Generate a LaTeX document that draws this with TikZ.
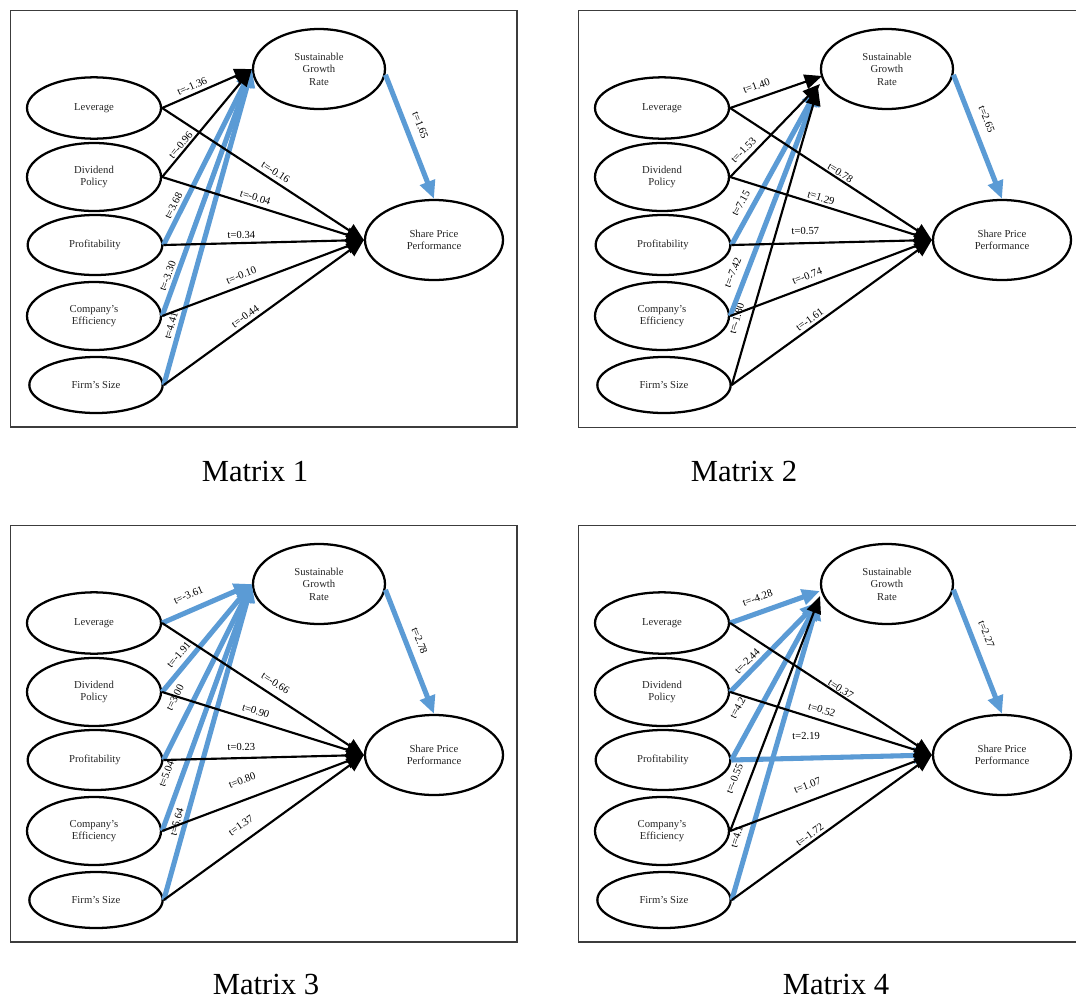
\documentclass[tikz,border=0pt]{standalone}
\usepackage{fontspec}
\setmainfont{Liberation Serif}
\usetikzlibrary{shapes.geometric,arrows.meta}
\pgfdeclarelayer{edges}
\pgfsetlayers{main,edges}
\definecolor{sblue}{RGB}{91,155,213}
\definecolor{frm}{RGB}{60,60,60}
\tikzset{
 var/.style={ellipse, draw=black, line width=1.7pt, inner sep=0pt, align=center,
   font=\fontsize{8}{9.4}\selectfont, text=black!85},
 blk/.style={draw=black, line width=1.6pt, -{Triangle[length=13pt,width=11pt]}},
 blu/.style={draw=sblue, line width=3.8pt, -{Triangle[length=13.5pt,width=11.5pt]}},
 lbl/.style={font=\fontsize{8}{9}\selectfont, inner sep=1pt, sloped, above=#1},
 frame/.style={draw=frm, line width=1pt},
 title/.style={font=\fontsize{23}{27}\selectfont}
}
% style, from, to, pos, offset, text
\newcommand\lnk[6]{%
 \path (#2) -- (#3) node[lbl=#5, pos=#4] {#6};
 \begin{pgfonlayer}{edges}\draw[#1] (#2) -- (#3);\end{pgfonlayer}}
\newcommand\vars[1]{%
 \node[var, minimum width=100.5pt, minimum height=46pt] (#1-lev) at (94,108) {Leverage};
 \node[var, minimum width=100.5pt, minimum height=51pt] (#1-div) at (94,177) {Dividend\\Policy};
 \node[var, minimum width=101pt, minimum height=45pt] (#1-prof) at (95,245) {Profitability};
 \node[var, minimum width=100.5pt, minimum height=51pt] (#1-comp) at (94,316) {Company’s\\Efficiency};
 \node[var, minimum width=100pt, minimum height=42pt] (#1-firm) at (96,385) {Firm’s Size};
 \node[var, minimum width=99pt, minimum height=60pt] (#1-sgr) at (319,69) {Sustainable\\Growth\\Rate};
 \node[var, minimum width=103.5pt, minimum height=60pt] (#1-spp) at (434,240) {Share Price\\Performance};
}
\begin{document}
\begin{tikzpicture}[x=0.75pt,y=-0.75pt]
\useasboundingbox (0,0) rectangle (1076,1000);
\fill[white] (0,0) rectangle (1076,1000);
% frames
\draw[frame] (10.5,10.5) rectangle (517,427);
\draw[frame] (1080,10.5) -- (578.5,10.5) -- (578.5,427.5) -- (1080,427.5);
\draw[frame] (10.5,525.5) rectangle (517,942);
\draw[frame] (1080,525.5) -- (578.5,525.5) -- (578.5,942) -- (1080,942);
% titles
\node[title] (t1) at (255,471) {Matrix 1};
\node[title] (t2) at (744,471) {Matrix 2};
\node[title] (t3) at (266,984) {Matrix 3};
\node[title] (t4) at (836,984) {Matrix 4};

% ---------------- Matrix 1
\begin{scope}
 \vars{a}
 \lnk{blu}{a-prof.east}{a-sgr.west}{.20}{2.6pt}{t=3.68}
 \lnk{blu}{a-comp.east}{a-sgr.west}{.15}{2.5pt}{t=-3.30}
 \lnk{blu}{a-firm.east}{a-sgr.west}{.18}{2.9pt}{t=4.41}
 \lnk{blu}{a-sgr.-5}{a-spp.north}{.45}{6.6pt}{t=1.65}
 \lnk{blk}{a-lev.east}{a-sgr.west}{.37}{2.1pt}{t=-1.36}
 \lnk{blk}{a-div.east}{a-sgr.west}{.26}{0.8pt}{t=-0.96}
 \lnk{blk}{a-lev.east}{a-spp.west}{.54}{2.4pt}{t=-0.16}
 \lnk{blk}{a-div.east}{a-spp.west}{.45}{2.2pt}{t=-0.04}
 \lnk{blk}{a-prof.east}{a-spp.west}{.39}{2.2pt}{t=0.34}
 \lnk{blk}{a-comp.east}{a-spp.west}{.41}{3.7pt}{t=-0.10}
 \lnk{blk}{a-firm.east}{a-spp.west}{.43}{2.0pt}{t=-0.44}
\end{scope}

% ---------------- Matrix 2
\begin{scope}[shift={(568,0)}]
 \vars{b}
 \coordinate (b-e1) at (254,76);
 \coordinate (b-e2) at (252,84);
 \coordinate (b-e3) at (250,88);
 \lnk{blu}{b-prof.east}{b-e3}{.23}{5.1pt}{t=7.15}
 \lnk{blu}{b-comp.east}{b-e3}{.17}{6.1pt}{t=-7.42}
 \lnk{blu}{b-sgr.-5}{b-spp.north}{.40}{7.2pt}{t=2.65}
 \lnk{blk}{b-lev.east}{b-e1}{.33}{5.2pt}{t=1.40}
 \lnk{blk}{b-div.east}{b-e2}{.22}{2.9pt}{t=-1.53}
 \lnk{blk}{b-firm.east}{b-e3}{.21}{6.5pt}{t=-1.80}
 \lnk{blk}{b-lev.east}{b-spp.west}{.53}{0.7pt}{t=0.78}
 \lnk{blk}{b-div.east}{b-spp.west}{.44}{1.5pt}{t=1.29}
 \lnk{blk}{b-prof.east}{b-spp.west}{.37}{5.2pt}{t=0.57}
 \lnk{blk}{b-comp.east}{b-spp.west}{.40}{3.9pt}{t=-0.74}
 \lnk{blk}{b-firm.east}{b-spp.west}{.41}{1.5pt}{t=-1.61}
\end{scope}

% ---------------- Matrix 3
\begin{scope}[shift={(0,515)}]
 \vars{c}
 \lnk{blu}{c-lev.east}{c-sgr.west}{.36}{7.4pt}{t=-3.61}
 \lnk{blu}{c-div.east}{c-sgr.west}{.28}{4.4pt}{t=-1.91}
 \lnk{blu}{c-prof.east}{c-sgr.west}{.31}{9.5pt}{t=3.00}
 \lnk{blu}{c-comp.east}{c-sgr.west}{.21}{7.8pt}{t=5.04}
 \lnk{blu}{c-firm.east}{c-sgr.west}{.24}{2.5pt}{t=5.64}
 \lnk{blu}{c-sgr.-5}{c-spp.north}{.45}{6pt}{t=2.78}
 \lnk{blk}{c-lev.east}{c-spp.west}{.53}{4.9pt}{t=-0.66}
 \lnk{blk}{c-div.east}{c-spp.west}{.45}{3.4pt}{t=0.90}
 \lnk{blk}{c-prof.east}{c-spp.west}{.39}{4.5pt}{t=0.23}
 \lnk{blk}{c-comp.east}{c-spp.west}{.43}{10.5pt}{t=0.80}
 \lnk{blk}{c-firm.east}{c-spp.west}{.43}{7.5pt}{t=1.37}
\end{scope}

% ---------------- Matrix 4
\begin{scope}[shift={(568,515)}]
 \vars{d}
 \coordinate (d-e1) at (252,76);
 \coordinate (d-e2) at (252,81);
 \coordinate (d-e3) at (250,87);
 \lnk{blu}{d-lev.east}{d-e1}{.36}{7pt}{t=-4.28}
 \lnk{blu}{d-div.east}{d-e3}{.27}{3pt}{t=-2.44}
 \lnk{blu}{d-prof.east}{d-e3}{.27}{10.8pt}{t=4.2}
 \lnk{blu}{d-firm.east}{d-e3}{.20}{5.8pt}{t=4.1}
 \lnk{blu}{d-prof.east}{d-spp.west}{.375}{12.7pt}{t=2.19}
 \lnk{blu}{d-sgr.-5}{d-spp.north}{.40}{7pt}{t=2.27}
 \lnk{blk}{d-comp.east}{d-e2}{.20}{7.1pt}{t=-0.55}
 \lnk{blk}{d-lev.east}{d-spp.west}{.535}{0pt}{t=0.37}
 \lnk{blk}{d-div.east}{d-spp.west}{.44}{3.7pt}{t=0.52}
 \lnk{blk}{d-comp.east}{d-spp.west}{.41}{7.7pt}{t=1.07}
 \lnk{blk}{d-firm.east}{d-spp.west}{.41}{1.2pt}{t=-1.72}
\end{scope}
\end{tikzpicture}
\end{document}
